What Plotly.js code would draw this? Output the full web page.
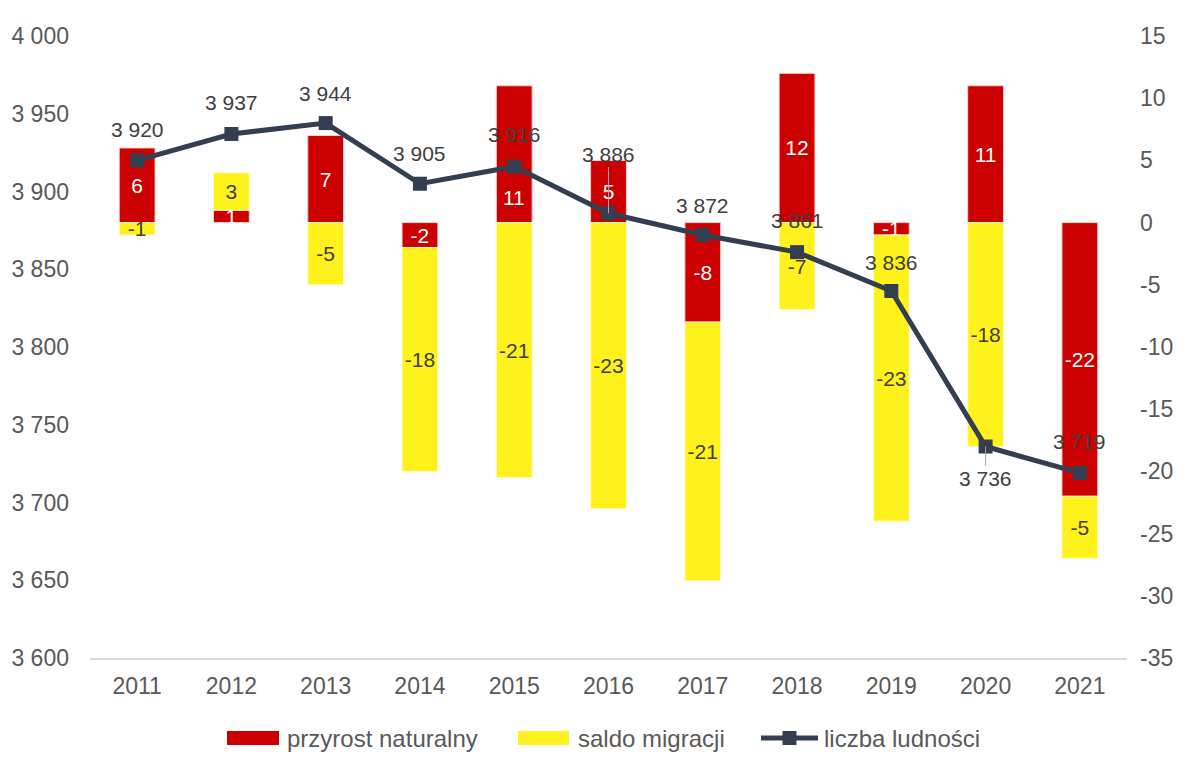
<!DOCTYPE html>
<html>
<head>
<meta charset="utf-8">
<script src="https://cdn.plot.ly/plotly-3.0.1.min.js"></script>
<style>html,body{margin:0;padding:0;background:#fff;}#chart{width:1192px;height:769px;}</style>
</head>
<body>
<div id="chart"></div>
<script>
const years = ['2011','2012','2013','2014','2015','2016','2017','2018','2019','2020','2021'];
const naturalGrowth = [6, 1, 7, -2, 11, 5, -8, 12, -1, 11, -22];
const naturalLabels = ['6','1','7','-2','11','5','-8','12','-1','11','-22'];
const migration = [-1, 3, -5, -18, -20.5, -23, -20.8, -7, -23, -18, -5];
const migrationLabels = ['-1','3','-5','-18','-21','-23','-21','-7','-23','-18','-5'];
const population = [3920, 3937, 3944, 3905, 3916, 3886, 3872, 3861, 3836, 3736, 3719];
const leftTicks = [3600, 3650, 3700, 3750, 3800, 3850, 3900, 3950, 4000];
const rightTickVals = [-35, -30, -25, -20, -15, -10, -5, 0, 5, 10, 15];
const rightTickText = ['-35','-30','-25','-20','-15','-10','-5','0','5','10','15'];
const legendNames = ['przyrost naturalny', 'saldo migracji', 'liczba ludności'];

const labelOffsets = [-31, -31, -30, -30, -32, -59, -30, -32, -29, 32, -31];
const movedIndex = 4;      // bar label placed lower in the reference
const movedShift = -43;

const fontFam = 'Liberation Sans, Arial, sans-serif';
const gray = '#595959';
const red = '#CC0000', yellow = '#FFF21C', navy = '#333F50';

const naturalPos = years.map((_, i) => i === movedIndex ? 'none' : 'inside');

const traces = [
  {
    type: 'bar', name: legendNames[0], x: years, y: naturalGrowth,
    text: naturalLabels, textposition: naturalPos, insidetextanchor: 'middle', textangle: 0,
    textfont: {color: '#ffffff', size: 21, family: fontFam},
    marker: {color: red, line: {color: '#f3d0d0', width: 1}},
    width: 0.38, yaxis: 'y', hoverinfo: 'skip', cliponaxis: false
  },
  {
    type: 'bar', name: legendNames[1], x: years, y: migration,
    text: migrationLabels, textposition: 'inside', insidetextanchor: 'middle', textangle: 0,
    textfont: {color: '#404040', size: 21, family: fontFam},
    marker: {color: yellow, line: {color: '#fffbd0', width: 1}},
    width: 0.38, yaxis: 'y', hoverinfo: 'skip', cliponaxis: false
  },
  {
    type: 'scatter', mode: 'lines+markers', name: legendNames[2], x: years, y: population,
    yaxis: 'y2', line: {color: navy, width: 5},
    marker: {symbol: 'square', size: 14, color: navy}, hoverinfo: 'skip'
  }
];

const fmt = v => String(v).replace(/\B(?=(\d{3})+(?!\d))/g, ' ');
const annotations = years.map((yr, i) => ({
  x: i, y: population[i], xref: 'x', yref: 'y2',
  text: fmt(population[i]), showarrow: true, arrowhead: 0, ax: 0, ay: labelOffsets[i],
  arrowwidth: 1, arrowcolor: (i === 5 || i === 9) ? '#A6A6A6' : 'rgba(0,0,0,0)',
  font: {size: 21, color: '#404040', family: fontFam}
}));
annotations.push({
  x: movedIndex, y: naturalGrowth[movedIndex] / 2, xref: 'x', yref: 'y',
  text: naturalLabels[movedIndex], showarrow: false, yshift: movedShift,
  font: {size: 21, color: '#ffffff', family: fontFam}
});

// custom legend (pixel positions -> paper coordinates)
const L = 90, W = 1037, B = 658, H = 622;
const px = v => (v - L) / W;
const py = v => (B - v) / H;
const legY = 738;
const legItems = [
  {x0: 227, x1: 279, tx: 285},
  {x0: 518, x1: 569, tx: 576},
  {x0: 761, x1: 818, tx: 822}
];
const shapes = [
  {type: 'rect', xref: 'paper', yref: 'paper', x0: px(legItems[0].x0), x1: px(legItems[0].x1),
   y0: py(legY + 7), y1: py(legY - 7), fillcolor: red, line: {width: 0}},
  {type: 'rect', xref: 'paper', yref: 'paper', x0: px(legItems[1].x0), x1: px(legItems[1].x1),
   y0: py(legY + 7), y1: py(legY - 7), fillcolor: yellow, line: {width: 0}},
  {type: 'line', xref: 'paper', yref: 'paper', x0: px(legItems[2].x0), x1: px(legItems[2].x1),
   y0: py(legY), y1: py(legY), line: {color: navy, width: 5}},
  {type: 'rect', xref: 'paper', yref: 'paper',
   x0: px((legItems[2].x0 + legItems[2].x1) / 2 - 7), x1: px((legItems[2].x0 + legItems[2].x1) / 2 + 7),
   y0: py(legY + 7), y1: py(legY - 7), fillcolor: navy, line: {width: 0}}
];
legItems.forEach((it, k) => annotations.push({
  xref: 'paper', yref: 'paper', x: px(it.tx), y: py(legY), xanchor: 'left', yanchor: 'middle',
  text: legendNames[k], showarrow: false, font: {size: 24, color: gray, family: fontFam}
}));

const layout = {
  width: 1192, height: 769,
  margin: {l: 90, r: 65, t: 36, b: 111},
  paper_bgcolor: '#ffffff', plot_bgcolor: '#ffffff',
  separators: '. ',
  barmode: 'relative',
  showlegend: false,
  font: {family: fontFam, color: gray},
  uniformtext: {mode: 'show', minsize: 21},
  xaxis: {
    type: 'category', range: [-0.5, 10.5], showgrid: false, zeroline: false,
    showline: true, linecolor: '#D9D9D9', linewidth: 2,
    ticks: '', tickfont: {size: 23, color: gray, family: fontFam},
    ticklabelstandoff: 6
  },
  yaxis: {
    side: 'right', range: [-35, 15], tickvals: rightTickVals, ticktext: rightTickText,
    showgrid: false, zeroline: false, showline: false, ticks: '',
    tickfont: {size: 23, color: gray, family: fontFam}, ticklabelstandoff: 12
  },
  yaxis2: {
    side: 'left', overlaying: 'y', range: [3600, 4000], tickvals: leftTicks, tickformat: ',d',
    showgrid: false, zeroline: false, showline: false, ticks: '',
    tickfont: {size: 23, color: gray, family: fontFam}, ticklabelstandoff: 20
  },
  shapes: shapes,
  annotations: annotations
};

Plotly.newPlot('chart', traces, layout, {staticPlot: true, displayModeBar: false});
</script>
</body>
</html>
